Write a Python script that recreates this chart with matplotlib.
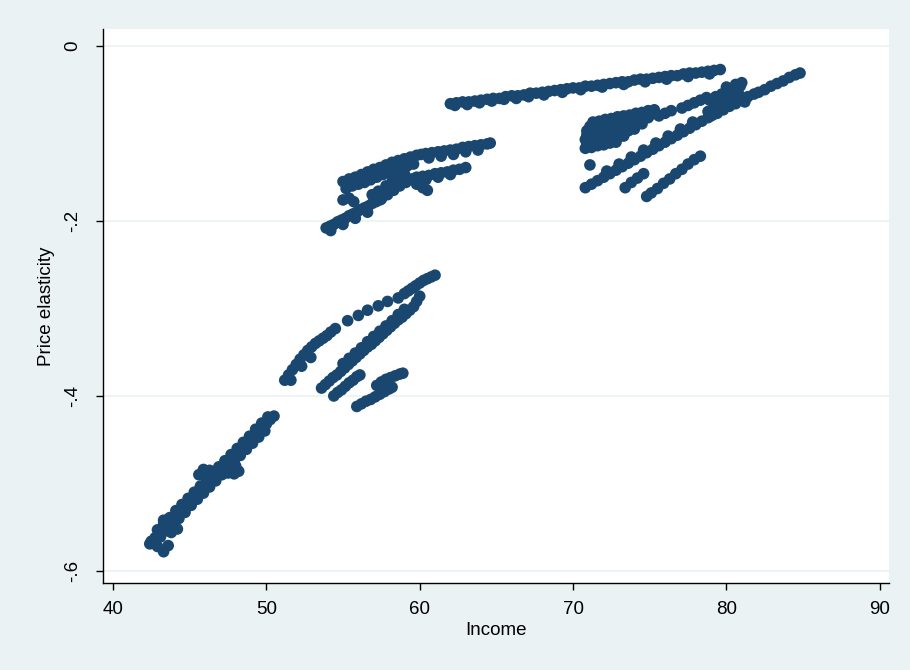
import matplotlib
matplotlib.use("Agg")
import matplotlib.pyplot as plt

# upper stretch of long diagonal run
income_a = [62.0, 62.4, 62.8, 63.2, 63.6, 64.0, 64.4, 64.8, 65.2, 65.6, 66.0, 66.4, 66.8, 67.2, 67.6,
            68.0, 68.4, 68.8, 69.2, 69.6, 70.0, 70.4, 70.8, 71.2, 71.6, 72.0, 72.4, 72.8, 73.2, 73.6,
            74.0, 74.4, 74.8, 75.2, 75.6, 76.0, 76.4, 76.8, 77.2, 77.6, 78.0, 78.4, 78.8, 79.2, 79.6,
            62.3, 63.1, 63.9, 64.7, 65.5, 66.3, 67.1, 68.1, 69.3, 70.5, 71.9, 73.3, 74.7, 76.1, 77.5, 78.9]
elast_a = [-0.066, -0.065, -0.064, -0.064, -0.063, -0.062, -0.061, -0.060, -0.060, -0.058, -0.057, -0.057,
           -0.056, -0.054, -0.054, -0.053, -0.052, -0.051, -0.050, -0.049, -0.048, -0.048, -0.046, -0.046,
           -0.045, -0.044, -0.043, -0.042, -0.041, -0.041, -0.039, -0.038, -0.038, -0.037, -0.036, -0.035,
           -0.034, -0.034, -0.032, -0.031, -0.031, -0.030, -0.029, -0.028, -0.027,
           -0.068, -0.067, -0.065, -0.063, -0.061, -0.060, -0.058, -0.056, -0.053, -0.050, -0.047, -0.044,
           -0.041, -0.038, -0.035, -0.032]

# high income group (right)
income_b = [82.5, 82.9, 83.3, 83.7, 84.1, 84.5, 84.8,
            81.0, 81.4, 81.8, 82.1, 81.2,
            70.8, 71.2, 71.6, 72.0, 72.4, 72.8, 73.2, 73.6, 74.0, 74.4, 74.8, 75.2, 75.6, 76.0, 76.4,
            76.8, 77.2, 77.6, 78.0, 78.4, 78.8, 79.2,
            72.2, 73.0, 73.8, 74.6, 75.4, 76.2, 77.0, 77.8,
            78.8, 79.2, 79.6, 80.0, 80.4, 80.8, 79.0, 79.4, 79.8, 80.2, 80.6,
            78.9, 79.3, 79.7, 80.1, 80.5, 80.9, 79.5, 80.3, 80.0, 80.6, 81.0,
            77.1, 77.5, 77.9, 78.3, 78.7, 75.6, 76.0, 76.4,
            71.3, 71.7, 72.1, 72.5, 72.9, 73.3, 73.7, 74.1, 74.5, 74.9, 75.3,
            71.1, 71.5, 71.9, 72.3, 72.7, 73.1, 73.5, 73.9, 74.3, 74.7, 75.1,
            70.9, 71.3, 71.7, 72.1, 72.5, 72.9, 73.3, 73.7, 74.1, 74.5, 74.9,
            70.9, 71.3, 71.7, 72.1, 72.5, 72.9, 73.3, 73.7, 74.1, 74.5,
            70.8, 71.2, 71.6, 72.0, 72.4, 72.8, 73.2, 73.6, 74.0,
            70.9, 71.3, 71.7, 72.1, 72.5, 72.9, 73.3,
            70.8, 71.2, 71.6, 72.0, 72.4, 72.8,
            71.1,
            73.4, 73.8, 74.2, 74.6,
            74.8, 75.1, 75.5, 75.9, 76.3, 76.7, 77.1, 77.5, 77.9, 78.3]
elast_b = [-0.050, -0.046, -0.043, -0.040, -0.036, -0.033, -0.031,
           -0.061, -0.058, -0.055, -0.053, -0.064,
           -0.162, -0.158, -0.154, -0.150, -0.146, -0.142, -0.138, -0.134, -0.130, -0.126, -0.122, -0.118,
           -0.114, -0.110, -0.106, -0.102, -0.098, -0.094, -0.090, -0.086, -0.082, -0.078,
           -0.143, -0.135, -0.127, -0.119, -0.111, -0.103, -0.095, -0.087,
           -0.075, -0.071, -0.067, -0.063, -0.059, -0.055, -0.080, -0.077, -0.073, -0.069, -0.066,
           -0.062, -0.058, -0.055, -0.052, -0.049, -0.046, -0.062, -0.056, -0.047, -0.044, -0.042,
           -0.071, -0.068, -0.065, -0.062, -0.059, -0.080, -0.077, -0.074,
           -0.087, -0.086, -0.084, -0.083, -0.081, -0.080, -0.079, -0.077, -0.076, -0.074, -0.073,
           -0.092, -0.091, -0.089, -0.088, -0.086, -0.085, -0.084, -0.082, -0.081, -0.079, -0.078,
           -0.097, -0.095, -0.094, -0.093, -0.091, -0.090, -0.088, -0.087, -0.085, -0.084, -0.082,
           -0.102, -0.101, -0.099, -0.098, -0.096, -0.095, -0.093, -0.092, -0.090, -0.089,
           -0.107, -0.106, -0.104, -0.103, -0.101, -0.100, -0.098, -0.097, -0.095,
           -0.112, -0.111, -0.109, -0.108, -0.106, -0.105, -0.103,
           -0.117, -0.116, -0.114, -0.113, -0.111, -0.110,
           -0.136,
           -0.162, -0.156, -0.151, -0.146,
           -0.172, -0.168, -0.163, -0.157, -0.152, -0.146, -0.141, -0.135, -0.130, -0.126]

# middle group
income_c = [60.4, 60.8, 61.2, 61.6, 62.0, 62.4, 62.8, 63.2, 63.6, 64.0, 64.4, 64.6,
            60.6, 61.4, 62.2, 63.0, 63.8,
            59.8, 60.2, 60.6, 61.0, 61.4, 61.8, 62.2, 62.6, 63.0, 60.4, 61.2, 62.0,
            55.0, 55.4, 55.8, 56.2, 56.6, 57.0, 57.4, 57.8, 58.2, 58.6, 59.0, 59.4, 59.8, 60.1,
            55.3, 55.7, 56.1, 56.5, 56.9, 57.3, 57.7, 58.1, 58.5, 58.9, 59.3,
            55.2, 55.6, 56.0, 56.4, 56.8, 57.2, 57.6, 58.0, 58.4, 58.8, 59.2, 59.6,
            57.5, 57.9, 58.3, 58.7, 59.1, 59.5, 57.8, 58.2, 58.6, 59.0, 59.8, 60.2, 60.5,
            53.9, 54.15, 54.4, 54.65, 54.9, 55.15, 55.4, 55.65, 55.9, 56.15, 56.4, 56.65, 56.9, 57.15, 57.4,
            54.2, 55.0, 55.8, 56.6,
            55.0, 55.4, 55.7, 56.9, 57.3]
elast_c = [-0.123, -0.122, -0.121, -0.120, -0.119, -0.118, -0.116, -0.115, -0.114, -0.113, -0.112, -0.111,
           -0.128, -0.126, -0.124, -0.121, -0.119,
           -0.150, -0.149, -0.148, -0.146, -0.145, -0.144, -0.142, -0.141, -0.139, -0.153, -0.150, -0.147,
           -0.155, -0.152, -0.150, -0.147, -0.144, -0.141, -0.139, -0.136, -0.133, -0.131, -0.129, -0.127,
           -0.125, -0.124,
           -0.158, -0.156, -0.153, -0.150, -0.147, -0.145, -0.142, -0.139, -0.137, -0.134, -0.132,
           -0.163, -0.160, -0.158, -0.156, -0.153, -0.150, -0.147, -0.145, -0.142, -0.139, -0.137, -0.135,
           -0.175, -0.170, -0.165, -0.160, -0.156, -0.152, -0.160, -0.155, -0.150, -0.146, -0.158, -0.162,
           -0.165,
           -0.208, -0.206, -0.204, -0.201, -0.199, -0.197, -0.194, -0.192, -0.190, -0.187, -0.185, -0.183,
           -0.180, -0.178, -0.176,
           -0.211, -0.204, -0.197, -0.190,
           -0.176, -0.174, -0.178, -0.170, -0.166]

# lower middle group
income_d = [51.2, 51.45, 51.7, 51.95, 52.2, 52.45, 52.7, 52.95, 53.2, 53.45, 53.7, 53.95, 54.2, 54.5,
            52.3, 52.9, 51.6,
            55.3, 56.0, 56.6, 57.3, 57.9, 58.6,
            59.0, 59.25, 59.5, 59.75, 60.0, 60.25, 60.5, 60.75, 61.0,
            53.6, 53.85, 54.1, 54.35, 54.6, 54.85, 55.1, 55.35, 55.6, 55.85, 56.1, 56.35, 56.6, 56.85,
            57.1, 57.35, 57.6, 57.85, 58.1, 58.35, 58.6, 58.85, 59.1, 59.35, 59.6, 59.8, 60.0,
            55.0, 55.4, 55.8, 56.2, 56.6, 57.0, 57.4, 57.8, 58.2, 58.6, 59.0,
            54.4, 54.65, 54.9, 55.15, 55.4, 55.65, 55.9, 56.1,
            55.9, 56.2, 56.5, 56.8, 57.1, 57.4, 57.7, 58.0, 58.2,
            57.2, 57.5, 57.8, 58.1, 58.4, 58.7, 58.9]
elast_d = [-0.382, -0.376, -0.370, -0.364, -0.358, -0.353, -0.348, -0.344, -0.340, -0.337, -0.334, -0.331,
           -0.327, -0.323,
           -0.366, -0.356, -0.382,
           -0.314, -0.308, -0.302, -0.297, -0.292, -0.288,
           -0.283, -0.280, -0.277, -0.274, -0.271, -0.268, -0.266, -0.264, -0.262,
           -0.391, -0.387, -0.383, -0.379, -0.376, -0.372, -0.368, -0.364, -0.360, -0.356, -0.352, -0.348,
           -0.344, -0.341, -0.337, -0.333, -0.329, -0.325, -0.321, -0.317, -0.313, -0.310, -0.306, -0.302,
           -0.298, -0.292, -0.286,
           -0.363, -0.357, -0.351, -0.345, -0.338, -0.332, -0.326, -0.320, -0.314, -0.307, -0.301,
           -0.400, -0.396, -0.393, -0.389, -0.385, -0.382, -0.378, -0.376,
           -0.412, -0.409, -0.406, -0.404, -0.401, -0.398, -0.395, -0.392, -0.390,
           -0.388, -0.384, -0.381, -0.379, -0.377, -0.375, -0.374]

# low income group
income_e = [42.5, 42.75, 43.0, 43.25, 43.5, 43.75, 44.0, 44.25, 44.5, 44.75, 45.0, 45.25, 45.5, 45.75,
            46.0, 46.25, 46.5, 46.75, 47.0, 47.25, 47.5, 47.75, 48.0, 48.25, 48.5, 48.75, 49.0, 49.25,
            49.5, 49.75, 50.0, 50.25, 50.5,
            42.9, 43.3, 43.7, 44.1, 44.5, 44.9, 45.3, 45.7, 46.1, 46.5, 46.9, 47.3, 47.7, 48.1, 48.5,
            48.9, 49.3, 49.7, 50.1,
            42.7, 43.1, 43.5, 43.9, 44.3, 44.7, 45.1, 45.5, 45.9, 46.3, 46.7, 47.1, 47.5, 47.9, 48.3,
            48.7, 49.1, 49.5, 49.9,
            45.9, 46.3, 46.7, 47.1, 47.5, 47.9, 48.2, 45.6, 48.0,
            43.8, 44.2, 43.3,
            43.3, 42.9, 43.6, 42.4]
elast_e = [-0.566, -0.562, -0.557, -0.553, -0.548, -0.544, -0.539, -0.535, -0.530, -0.526, -0.521, -0.517,
           -0.512, -0.508, -0.503, -0.499, -0.494, -0.490, -0.485, -0.481, -0.476, -0.472, -0.468, -0.463,
           -0.459, -0.454, -0.450, -0.445, -0.441, -0.436, -0.432, -0.427, -0.423,
           -0.553, -0.546, -0.539, -0.531, -0.524, -0.517, -0.510, -0.503, -0.496, -0.488, -0.481, -0.474,
           -0.467, -0.460, -0.453, -0.446, -0.438, -0.431, -0.424,
           -0.568, -0.561, -0.554, -0.547, -0.540, -0.533, -0.525, -0.518, -0.511, -0.504, -0.497, -0.490,
           -0.482, -0.475, -0.468, -0.461, -0.454, -0.447, -0.440,
           -0.484, -0.485, -0.486, -0.487, -0.488, -0.489, -0.486, -0.490, -0.480,
           -0.556, -0.552, -0.542,
           -0.578, -0.572, -0.571, -0.569]

x_ticks = [40, 50, 60, 70, 80, 90]
y_ticks = [0, -0.2, -0.4, -0.6]
y_tick_labels = ["0", "-.2", "-.4", "-.6"]

plt.rcParams["font.family"] = ["Liberation Sans", "DejaVu Sans"]

bg = "#eaf2f3"
navy = "#1a476f"

fig = plt.figure(figsize=(9.1, 6.7), dpi=100, facecolor=bg)
ax = fig.add_axes([0.1132, 0.1299, 0.8637, 0.8269])
ax.set_facecolor("white")

groups = [(income_a, elast_a), (income_b, elast_b), (income_c, elast_c),
          (income_d, elast_d), (income_e, elast_e)]
for inc, el in groups:
    ax.scatter(inc, el, s=70, color=navy, edgecolors="none", zorder=3)

ax.set_xlim(39.35, 90.6)
ax.set_ylim(-0.6137, 0.0194)
ax.set_xticks(x_ticks)
ax.set_yticks(y_ticks)
ax.set_yticklabels(y_tick_labels)

ax.yaxis.grid(True, color=bg, lw=1.2, zorder=0)
ax.set_axisbelow(True)

for side in ["top", "right"]:
    ax.spines[side].set_visible(False)
for side in ["left", "bottom"]:
    ax.spines[side].set_color("black")
    ax.spines[side].set_linewidth(1.0)

ax.tick_params(axis="both", length=5, width=1, color="black", labelsize=13.5)
ax.tick_params(axis="x", pad=8)
ax.tick_params(axis="y", labelrotation=90, pad=11)
for lab in ax.get_yticklabels():
    lab.set_va("center")

ax.set_xlabel("Income", fontsize=13.5, labelpad=3)
ax.set_ylabel("Price elasticity", fontsize=13.5, labelpad=6)

fig.savefig("out.png", dpi=100, facecolor=bg)
